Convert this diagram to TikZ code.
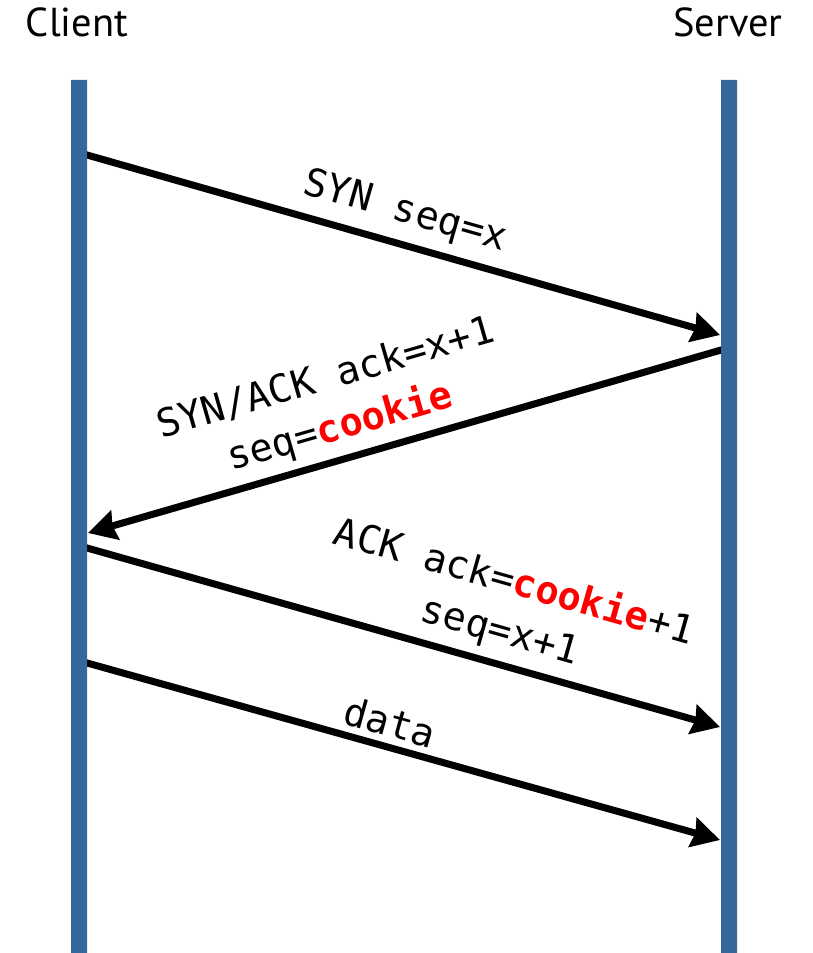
\documentclass[tikz,border=0pt]{standalone}
\usepackage{fontspec}
\setmainfont{PT Sans}
\newfontfamily\monofont{DejaVu Sans Mono}
\usetikzlibrary{arrows.meta}
\definecolor{barblue}{RGB}{52,103,154}
\newcommand{\hot}[1]{\textcolor{red}{\bfseries #1}}

\begin{document}
\begin{tikzpicture}[x=0.02cm, y=-0.02cm, line join=round,
    >={Stealth[length=16pt,width=17pt,inset=1.5pt]},
    msg/.style={->, line width=4pt},
    who/.style={font=\fontsize{23}{27}\selectfont, anchor=base},
    lbl/.style={font=\monofont\fontsize{22}{29}\selectfont, align=center, inner sep=0pt}]
    \useasboundingbox (0,0) rectangle (813,953);
    \node[who] (client) at (77,37) {Client};
    \node[who] (server) at (728,37) {Server};
    % message end points, client side and server side
    \coordinate (c1) at (80,153);  \coordinate (s1) at (720,335);
    \coordinate (s2) at (728,348); \coordinate (c2) at (88,533);
    \coordinate (c3) at (80,546);  \coordinate (s3) at (720,727);
    \coordinate (c4) at (80,661);  \coordinate (s4) at (720,840);
    \draw[msg] (c1) -- (s1);
    \draw[msg] (s2) -- (c2);
    \draw[msg] (c3) -- (s3);
    \draw[msg] (c4) -- (s4);
    % time lines
    \fill[barblue]
    (71,80) rectangle (87,953)
    (721,80) rectangle (737,953)
    ;
    \node[lbl, rotate=-15.9] (syn) at (405,212) {SYN seq=x};
    \node[lbl, rotate=16.1] (synack) at (333,404) {SYN/ACK ack=x+1\\seq=\hot{cookie}};
    \node[lbl, rotate=-15.8] (ack) at (507,607) {ACK ack=\hot{cookie}+1\\seq=x+1};
    \node[lbl, rotate=-15.6] (data) at (390,722) {data};
\end{tikzpicture}
\end{document}
